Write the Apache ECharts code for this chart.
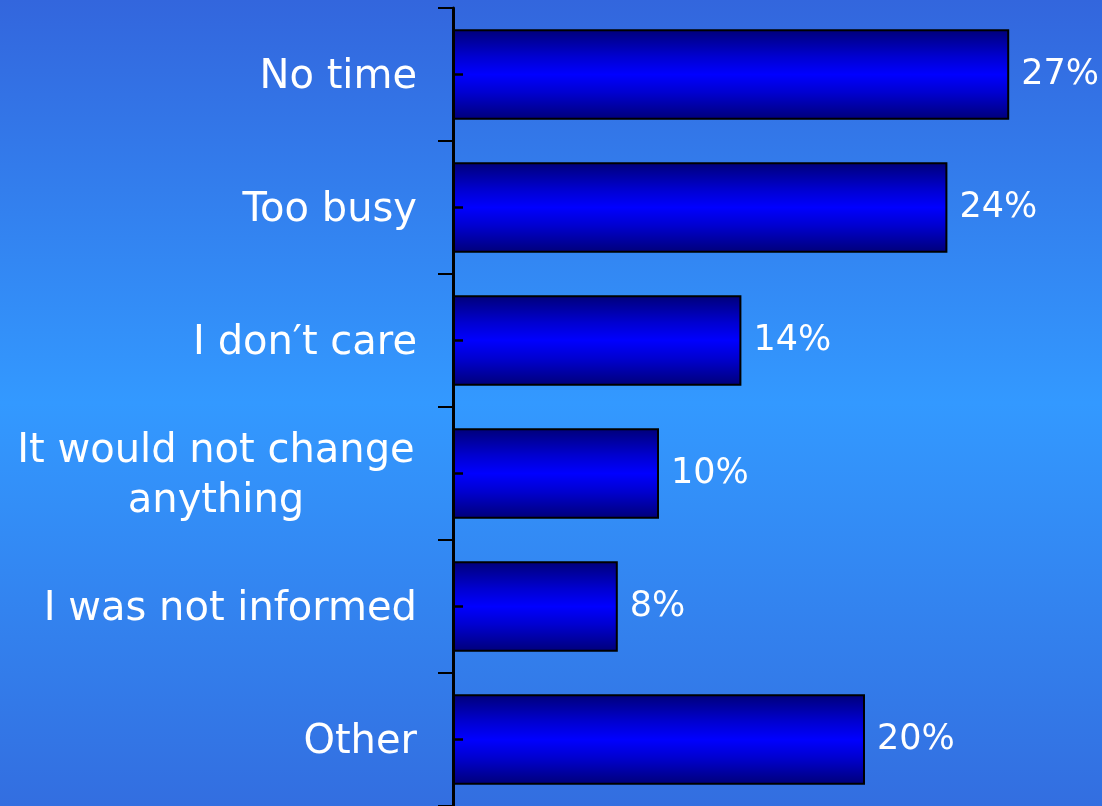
<!DOCTYPE html>
<html>
<head>
<meta charset="utf-8">
<script src="https://cdn.jsdelivr.net/npm/echarts@6/dist/echarts.min.js"></script>
<style>
  html, body { margin: 0; padding: 0; }
  #main { width: 1102px; height: 806px; }
</style>
</head>
<body>
<div id="main"></div>
<script>
var categories = ['No time', 'Too busy', "I don\u2032t care", 'It would not change\nanything', 'I was not informed', 'Other'];
var values = [27, 24, 14, 10, 8, 20];

var barFill = {
    type: 'linear', x: 0, y: 0, x2: 0, y2: 1,
    colorStops: [
        { offset: 0, color: '#000078' },
        { offset: 0.3, color: '#0000d0' },
        { offset: 0.5, color: '#0000ff' },
        { offset: 0.7, color: '#0000d0' },
        { offset: 1, color: '#000078' }
    ]
};

var option = {
    backgroundColor: {
        type: 'linear', x: 0, y: 0, x2: 0, y2: 1,
        colorStops: [
            { offset: 0, color: '#3366dd' },
            { offset: 0.5, color: '#3399ff' },
            { offset: 1, color: '#336ee0' }
        ]
    },
    animation: false,
    grid: {
        left: 453,
        top: 8,
        width: 618,
        height: 800
    },
    xAxis: {
        type: 'value',
        min: 0,
        max: 30,
        show: false
    },
    yAxis: [
        {
            type: 'category',
            position: 'left',
            inverse: true,
            z: 10,
            data: categories,
            axisLine: { show: true, lineStyle: { color: '#000', width: 3 } },
            axisTick: { show: true, length: 15, lineStyle: { color: '#000', width: 2 } },
            axisLabel: {
                margin: 36,
                color: '#fff',
                fontFamily: 'DejaVu Sans',
                fontSize: 40,
                lineHeight: 50,
                padding: [6, 0, 0, 0],
                formatter: function (v) {
                    if (v.indexOf('\n') >= 0) {
                        return v.split('\n').map(function (s) { return '{c|' + s + '}'; }).join('\n');
                    }
                    return v;
                },
                rich: {
                    c: { width: 402, align: 'center', fontSize: 40, color: '#fff', fontFamily: 'DejaVu Sans', lineHeight: 50 }
                }
            }
        },
        {
            type: 'category',
            position: 'left',
            inverse: true,
            z: 10,
            data: categories,
            axisLine: { show: false },
            axisLabel: { show: false },
            axisTick: { show: true, alignWithLabel: true, inside: true, length: 10, lineStyle: { color: '#000', width: 2.5 } }
        }
    ],
    series: [
        {
            type: 'bar',
            yAxisIndex: 0,
            data: values,
            barCategoryGap: '32%',
            itemStyle: {
                color: barFill,
                borderColor: '#000',
                borderWidth: 2
            },
            label: {
                show: true,
                position: 'right',
                distance: 12,
                formatter: '{c}%',
                color: '#fff',
                fontFamily: 'DejaVu Sans',
                fontSize: 35
            }
        }
    ]
};

var chart = echarts.init(document.getElementById('main'));
chart.setOption(option);
</script>
</body>
</html>
